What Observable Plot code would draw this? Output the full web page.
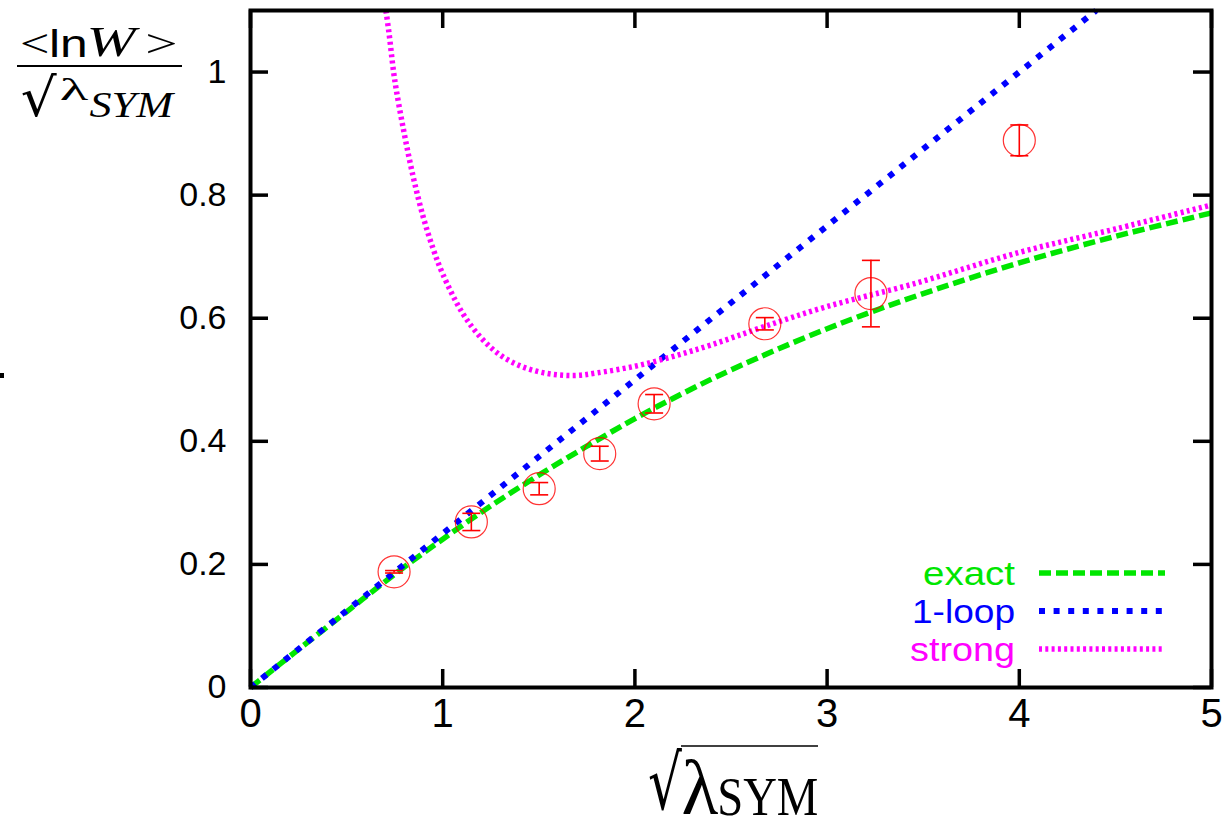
<!DOCTYPE html>
<html><head><meta charset="utf-8">
<script src="https://cdn.jsdelivr.net/npm/d3@7"></script>
<script src="https://cdn.jsdelivr.net/npm/@observablehq/plot@0.6"></script>
<style>html,body{margin:0;padding:0;background:#fff;} #chart{width:1229px;height:819px;overflow:hidden}</style>
</head><body><div id="chart"></div>
<script>
// ---- data ----
const xTicks = [0, 1, 2, 3, 4, 5];
const xTickLabels = ["0", "1", "2", "3", "4", "5"];
const yTicks = [0, 0.2, 0.4, 0.6, 0.8, 1];
const yTickLabels = ["0", "0.2", "0.4", "0.6", "0.8", "1"];

const exactX = [0, 0.25, 0.5, 0.75, 1, 1.25, 1.5, 1.75, 2, 2.25, 2.5, 3, 3.5, 4, 4.5, 5];
const exactY = [0, 0.062, 0.123, 0.184, 0.241, 0.295, 0.345, 0.392, 0.437, 0.478, 0.516, 0.583, 0.640, 0.690, 0.733, 0.771];

const loopX = [0, 1, 2, 3, 4, 4.4];
const loopY = [0, 0.25, 0.5, 0.75, 1.0, 1.1];

const strongX = [0.70, 0.72, 0.75, 0.80, 0.85, 0.90, 0.95, 1.0, 1.1, 1.2, 1.3, 1.4, 1.5, 1.6, 1.7, 1.8, 2.0, 2.2, 2.4, 2.66, 3.0, 3.44, 4.0, 4.5, 5.0];
const strongY = [1.11, 1.065, 0.988, 0.900, 0.825, 0.763, 0.713, 0.672, 0.610, 0.568, 0.540, 0.523, 0.513, 0.508, 0.507, 0.511, 0.522, 0.538, 0.557, 0.585, 0.619, 0.655, 0.707, 0.745, 0.784];

const latX = [0.747, 1.149, 1.502, 1.817, 2.100, 2.676, 3.228, 4.000];
const latY = [0.188, 0.269, 0.323, 0.380, 0.461, 0.591, 0.640, 0.889];
const latErr = [0.002, 0.014, 0.010, 0.012, 0.015, 0.010, 0.054, 0.025];

const legendLabels = ["exact", "1-loop", "strong"];

// ---- styles ----
const GREEN = "#00e600", BLUE = "#0000ff", MAGENTA = "#ff00ff", RED = "#ff0000";
const W = 1229, H = 819, mL = 250, mR = 18, mT = 10, mB = 132;
const fw = W - mL - mR, fh = H - mT - mB, TICK = 18;

const exact = exactX.map((x, i) => ({x, y: exactY[i]}));
const loop = loopX.map((x, i) => ({x, y: loopY[i]}));
const strong = strongX.map((x, i) => ({x, y: strongY[i]}));
const lat = latX.map((x, i) => ({x, y: latY[i], e: latErr[i]}));

const capSymbol = {draw(ctx, size) { const r = Math.sqrt(size / Math.PI); ctx.moveTo(-r, 0); ctx.lineTo(r, 0); }};
const DASH = {exact: "12,5", loop: "6,8.6", strong: "3,3.3"};

const chart = Plot.plot({
  width: W, height: H,
  marginLeft: mL, marginRight: mR, marginTop: mT, marginBottom: mB,
  x: {domain: [0, 5], axis: null},
  y: {domain: [0, 1.1], axis: null},
  style: {fontFamily: "'Liberation Sans', Arial, sans-serif", background: "#fff", color: "#000"},
  marks: [
    Plot.line(exact, {x: "x", y: "y", stroke: GREEN, strokeWidth: 5.5, strokeDasharray: DASH.exact, strokeLinecap: "butt", curve: "catmull-rom"}),
    Plot.line(loop, {x: "x", y: "y", stroke: BLUE, strokeWidth: 6, strokeDasharray: DASH.loop, strokeLinecap: "butt"}),
    Plot.line(strong, {x: "x", y: "y", stroke: MAGENTA, strokeWidth: 5.5, strokeDasharray: DASH.strong, strokeLinecap: "butt", curve: "catmull-rom", clip: true}),
    Plot.ruleX(lat, {x: "x", y1: d => d.y - d.e, y2: d => d.y + d.e, stroke: RED, strokeWidth: 1.6}),
    Plot.dot(lat, {x: "x", y: d => d.y - d.e, symbol: capSymbol, r: 9, stroke: RED, strokeWidth: 1.6}),
    Plot.dot(lat, {x: "x", y: d => d.y + d.e, symbol: capSymbol, r: 9, stroke: RED, strokeWidth: 1.6}),
    Plot.dot(lat, {x: "x", y: "y", r: 16, stroke: RED, strokeWidth: 1.2, strokeOpacity: 0.8}),
    // inward ticks on all four sides
    Plot.tickX(xTicks, {x: d => d, insetTop: fh - TICK, stroke: "#000", strokeWidth: 3.5}),
    Plot.tickX(xTicks, {x: d => d, insetBottom: fh - TICK, stroke: "#000", strokeWidth: 3.5}),
    Plot.tickY(yTicks, {y: d => d, insetRight: fw - TICK, stroke: "#000", strokeWidth: 3.5}),
    Plot.tickY(yTicks, {y: d => d, insetLeft: fw - TICK, stroke: "#000", strokeWidth: 3.5}),
    Plot.frame({stroke: "#000", strokeWidth: 4}),
    // tick labels
    Plot.text(xTicks, {x: d => d, text: (d, i) => xTickLabels[i], frameAnchor: "bottom", dy: 39, fontSize: 40, fill: "#000"}),
    Plot.text(yTicks, {y: d => d, text: (d, i) => yTickLabels[i], frameAnchor: "left", dx: -24, textAnchor: "end", fontSize: 34, fill: "#000"})
  ]
});
document.getElementById("chart").appendChild(chart);

const svg = d3.select(chart);
const SERIF = "'Liberation Serif', 'Times New Roman', serif";
const MATH = "'DejaVu Serif', serif";
const SANS = "'Liberation Sans', Arial, sans-serif";

// place a text so that its ink fills a target box
const cv = document.createElement("canvas").getContext("2d");
function fitText(parent, str, family, style, x0, y0, x1, y1, fill) {
  const size = 100;
  cv.font = `${style} ${size}px ${family}`;
  cv.textAlign = "left";
  cv.textBaseline = "alphabetic";
  const m = cv.measureText(str);
  const left = -m.actualBoundingBoxLeft, right = m.actualBoundingBoxRight;
  const top = -m.actualBoundingBoxAscent, bottom = m.actualBoundingBoxDescent;
  const sx = (x1 - x0) / (right - left), sy = (y1 - y0) / (bottom - top);
  parent.append("text")
    .attr("transform", `translate(${x0 - left * sx},${y0 - top * sy}) scale(${sx},${sy})`)
    .attr("text-anchor", "start")
    .attr("font-family", family).attr("font-style", style).attr("font-size", size)
    .attr("fill", fill || "#000").text(str);
}

// legend
const legColors = [GREEN, BLUE, MAGENTA];
const legDash = [DASH.exact, DASH.loop, DASH.strong];
const legWidth = [5.5, 6, 5.5];
const legY = [573, 611, 649];
const legLen = [92, 103, 105];
const lg = svg.append("g").attr("text-anchor", "end");
legendLabels.forEach((lab, i) => {
  lg.append("text").attr("x", 1015).attr("y", legY[i]).attr("dy", "0.36em")
    .attr("text-anchor", "end").attr("font-family", SANS).attr("font-size", 33)
    .attr("fill", legColors[i]).attr("textLength", legLen[i]).attr("lengthAdjust", "spacingAndGlyphs").text(lab);
  lg.append("line").attr("x1", 1039).attr("x2", 1165).attr("y1", legY[i]).attr("y2", legY[i])
    .attr("stroke", legColors[i]).attr("stroke-width", legWidth[i]).attr("stroke-dasharray", legDash[i]);
});

// y-axis label: <ln W> over sqrt(lambda_SYM)
const yl = svg.append("g").attr("text-anchor", "start");
fitText(yl, "<", SERIF, "normal", 22, 33, 47, 53);
fitText(yl, "ln", SANS, "normal", 52, 29, 85, 57);
fitText(yl, "W", SERIF, "italic", 90, 28.5, 140, 57);
fitText(yl, ">", SERIF, "normal", 148, 33, 175, 53);
yl.append("line").attr("x1", 17).attr("x2", 182).attr("y1", 66).attr("y2", 66).attr("stroke", "#000").attr("stroke-width", 2);
fitText(yl, "√", MATH, "normal", 22, 73, 57, 118);
fitText(yl, "λ", SERIF, "normal", 61, 77, 88, 100);
fitText(yl, "SYM", SERIF, "italic", 90, 93, 175, 118);

// x-axis label: sqrt(lambda_SYM) with overline
const xl = svg.append("g").attr("text-anchor", "start");
xl.append("line").attr("x1", 681).attr("x2", 818).attr("y1", 746).attr("y2", 746).attr("stroke", "#000").attr("stroke-width", 1.6);
fitText(xl, "√", MATH, "normal", 649, 747, 682, 811);
fitText(xl, "λ", SERIF, "normal", 683, 759, 718, 815);
fitText(xl, "SYM", SERIF, "normal", 720, 779, 817, 816);

// small stray mark at the left edge of the reference
svg.append("rect").attr("x", 0).attr("y", 373).attr("width", 4).attr("height", 5).attr("fill", "#000");
</script>
</body></html>
